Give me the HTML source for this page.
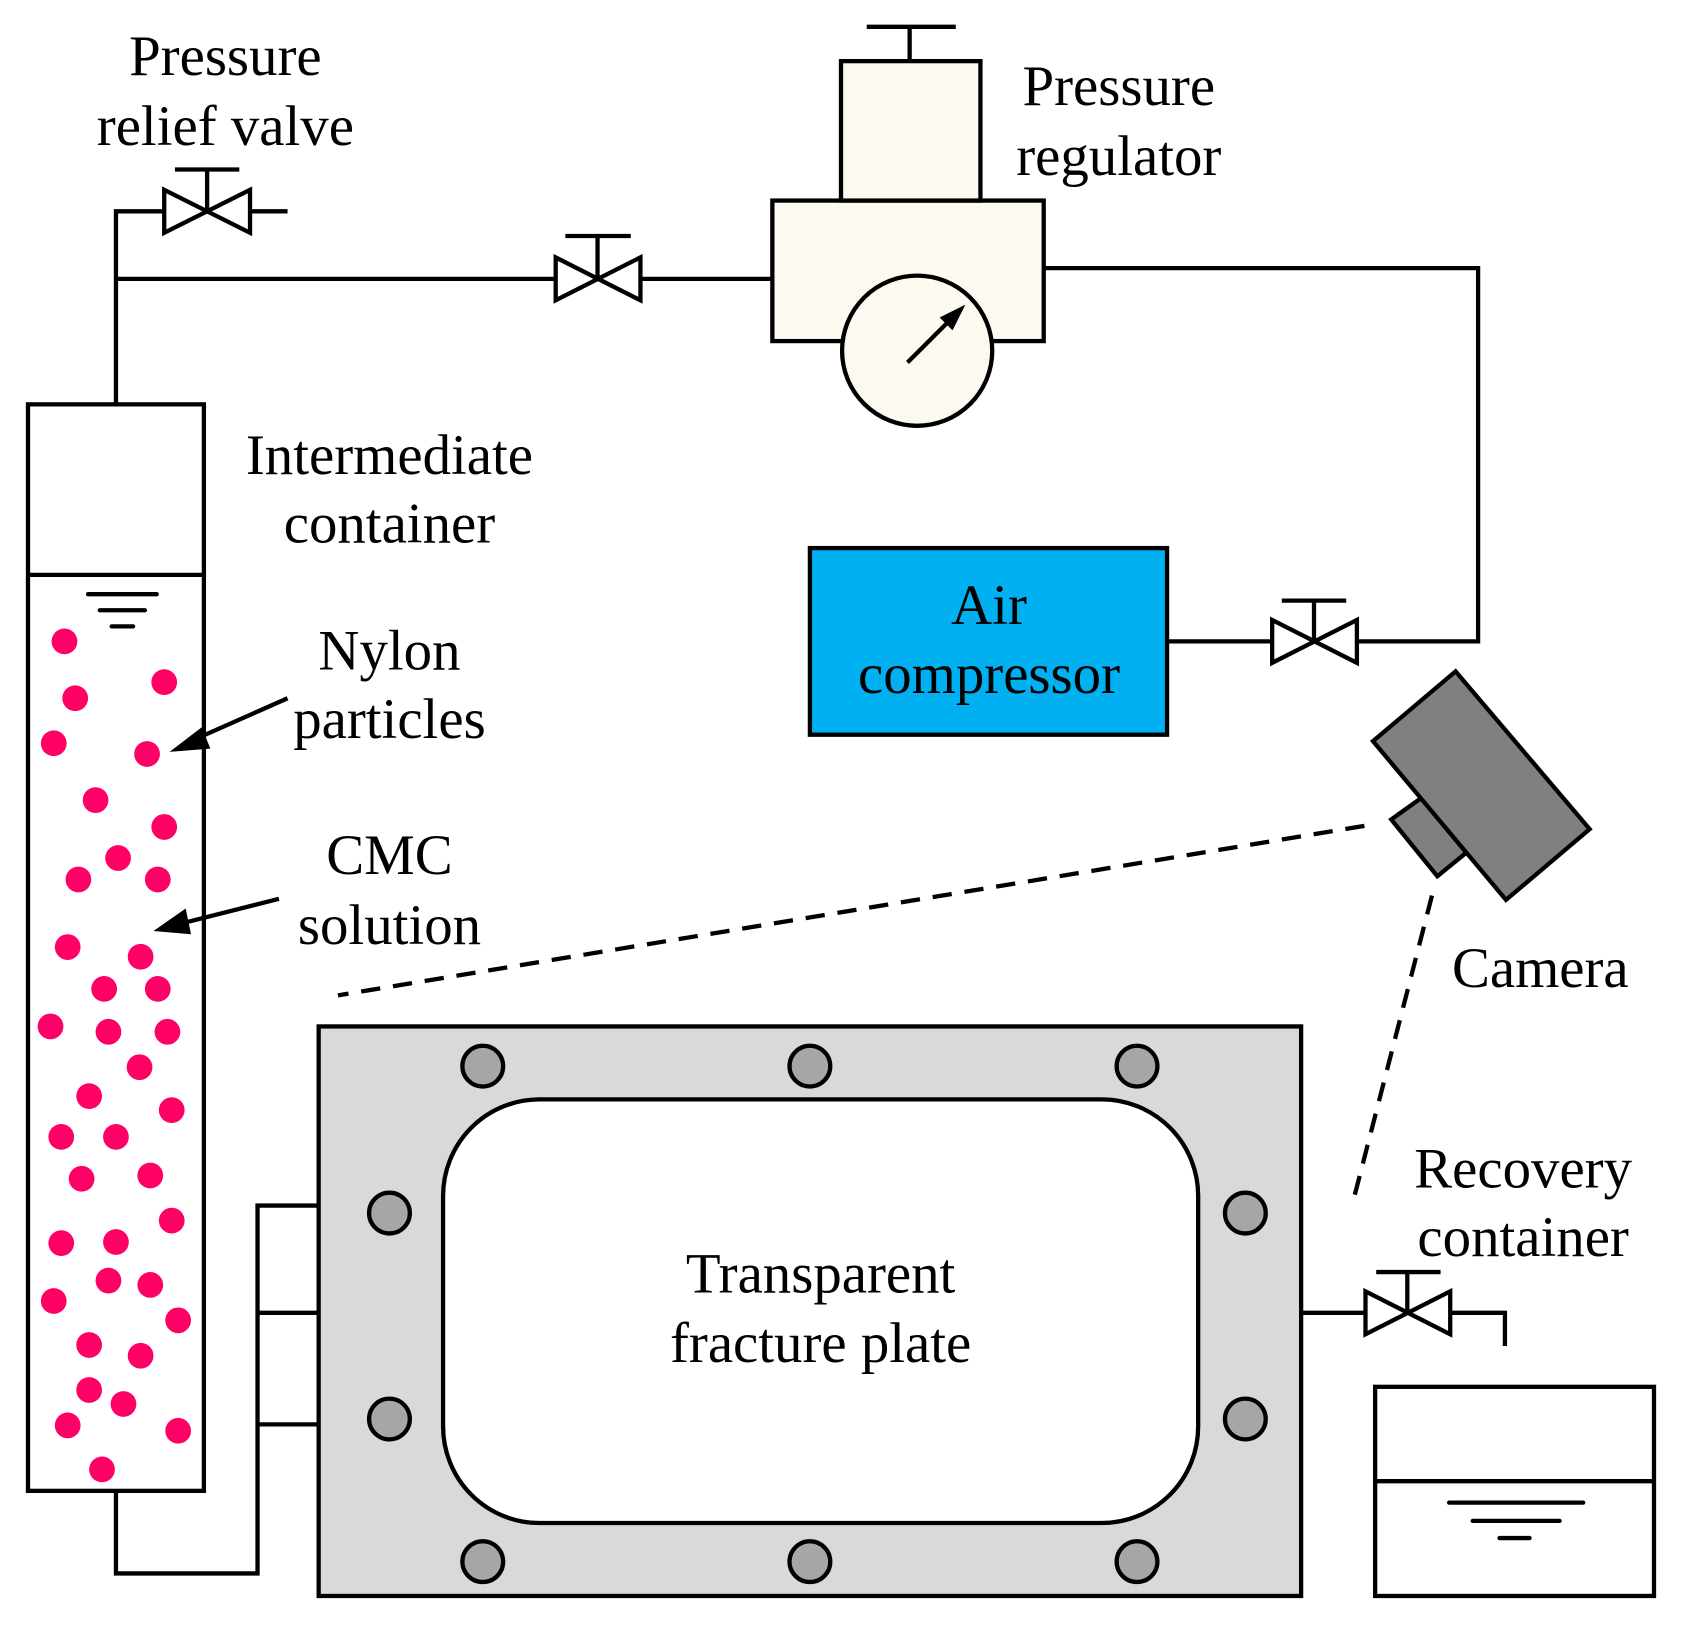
<!DOCTYPE html>
<html><head><meta charset="utf-8"><style>
html,body{margin:0;padding:0;background:#fff;}
svg{display:block;}
text{font-family:"Liberation Serif",serif;font-size:53px;fill:#000;text-anchor:middle;}
</style></head><body>
<svg width="1682" height="1626" viewBox="0 0 1568 1516" xmlns="http://www.w3.org/2000/svg">
<g fill="none" stroke="#000" stroke-width="4" stroke-linejoin="miter">
<rect x="26" y="377" width="164" height="1013" fill="#fff"/>
<line x1="26" y1="536" x2="190" y2="536"/>
<g stroke-linecap="round"><line x1="82" y1="554" x2="146" y2="554"/><line x1="93" y1="569" x2="135" y2="569"/><line x1="104" y1="584" x2="124" y2="584"/></g>
<polyline points="108,377 108,197 153,197"/>
<polygon points="153,177 153,217 233,177 233,217"/>
<line x1="193" y1="197" x2="193" y2="158"/><line x1="163" y1="158" x2="223" y2="158"/>
<line x1="233" y1="197" x2="268" y2="197"/>
<line x1="108" y1="260" x2="518" y2="260"/>
<polygon points="518,240 518,280 597,240 597,280"/>
<line x1="557" y1="260" x2="557" y2="220"/><line x1="527" y1="220" x2="588" y2="220"/>
<line x1="597" y1="260" x2="720" y2="260"/>
<rect x="720" y="187" width="253" height="131" fill="#fcfaf0"/>
<rect x="784" y="57" width="130" height="130" fill="#fcfaf0"/>
<line x1="848" y1="57" x2="848" y2="25"/><line x1="808" y1="25" x2="891" y2="25"/>
<circle cx="855" cy="327" r="70" fill="#fcfaf0"/>
<line x1="846" y1="338" x2="888" y2="296"/>
<polyline points="973,250 1378,250 1378,598 1265,598"/>
<polygon points="1186,578 1186,618 1265,578 1265,618"/>
<line x1="1225" y1="598" x2="1225" y2="560"/><line x1="1195" y1="560" x2="1255" y2="560"/>
<line x1="1186" y1="598" x2="1088" y2="598"/>
<rect x="755" y="511" width="333" height="174" fill="#00b0f0"/>
<polygon points="1297,764 1325,744 1367,795 1340,817" fill="#808080"/>
<polygon points="1357,626 1280,691 1404,839 1482,773" fill="#808080"/>
<g stroke-dasharray="18,12"><line x1="1272" y1="770" x2="315" y2="928"/><line x1="1335" y1="835" x2="1262" y2="1118"/></g>
<rect x="297" y="957" width="916" height="531" fill="#d9d9d9"/>
<rect x="413" y="1025" width="704" height="395" rx="90" fill="#fff"/>
<g fill="#a6a6a6">
<circle cx="450" cy="994" r="19"/><circle cx="755" cy="994" r="19"/><circle cx="1060" cy="994" r="19"/>
<circle cx="363" cy="1131" r="19"/><circle cx="1161" cy="1131" r="19"/>
<circle cx="363" cy="1323" r="19"/><circle cx="1161" cy="1323" r="19"/>
<circle cx="450" cy="1456" r="19"/><circle cx="755" cy="1456" r="19"/><circle cx="1060" cy="1456" r="19"/>
</g>
<polyline points="297,1124 240,1124 240,1467 108,1467 108,1390"/>
<line x1="240" y1="1224" x2="297" y2="1224"/><line x1="240" y1="1328" x2="297" y2="1328"/>
<line x1="1213" y1="1224" x2="1273" y2="1224"/>
<polygon points="1273,1204 1273,1244 1352,1204 1352,1244"/>
<line x1="1312" y1="1224" x2="1312" y2="1186"/><line x1="1283" y1="1186" x2="1343" y2="1186"/>
<polyline points="1352,1224 1403,1224 1403,1255"/>
<rect x="1282" y="1293" width="260" height="195"/>
<line x1="1282" y1="1381" x2="1542" y2="1381"/>
<g stroke-linecap="round"><line x1="1351" y1="1401" x2="1476" y2="1401"/><line x1="1373" y1="1418" x2="1454" y2="1418"/><line x1="1398" y1="1434" x2="1426" y2="1434"/></g>
<line x1="268" y1="651" x2="180" y2="690"/>
<line x1="260" y1="838" x2="165" y2="862"/>
</g>
<g fill="#000">
<polygon points="900,284 876,296 888,308"/>
<polygon points="158,701 188,678 196,698"/>
<polygon points="143,868 173,847 178,871"/>
</g>
<g fill="#ff0066">
<circle cx="60" cy="598" r="12"/><circle cx="153" cy="636" r="12"/><circle cx="70" cy="651" r="12"/><circle cx="50" cy="693" r="12"/><circle cx="137" cy="703" r="12"/><circle cx="89" cy="746" r="12"/><circle cx="153" cy="771" r="12"/><circle cx="110" cy="800" r="12"/><circle cx="73" cy="820" r="12"/><circle cx="147" cy="820" r="12"/><circle cx="63" cy="883" r="12"/><circle cx="131" cy="892" r="12"/><circle cx="97" cy="922" r="12"/><circle cx="147" cy="922" r="12"/><circle cx="47" cy="957" r="12"/><circle cx="101" cy="962" r="12"/><circle cx="156" cy="962" r="12"/><circle cx="130" cy="995" r="12"/><circle cx="83" cy="1022" r="12"/><circle cx="160" cy="1035" r="12"/><circle cx="57" cy="1060" r="12"/><circle cx="108" cy="1060" r="12"/><circle cx="76" cy="1099" r="12"/><circle cx="140" cy="1096" r="12"/><circle cx="160" cy="1138" r="12"/><circle cx="57" cy="1159" r="12"/><circle cx="108" cy="1158" r="12"/><circle cx="101" cy="1194" r="12"/><circle cx="140" cy="1198" r="12"/><circle cx="50" cy="1213" r="12"/><circle cx="166" cy="1231" r="12"/><circle cx="83" cy="1254" r="12"/><circle cx="131" cy="1264" r="12"/><circle cx="83" cy="1296" r="12"/><circle cx="115" cy="1309" r="12"/><circle cx="63" cy="1329" r="12"/><circle cx="166" cy="1334" r="12"/><circle cx="95" cy="1370" r="12"/>
</g>
<text x="210" y="70">Pressure</text>
<text x="210" y="135">relief valve</text>
<text x="1043" y="98">Pressure</text>
<text x="1043" y="163">regulator</text>
<text x="363" y="442">Intermediate</text>
<text x="363" y="506">container</text>
<text x="363" y="624">Nylon</text>
<text x="363" y="688">particles</text>
<text x="363" y="815">CMC</text>
<text x="363" y="880">solution</text>
<text x="922" y="582">Air</text>
<text x="922" y="646">compressor</text>
<text x="1436" y="920">Camera</text>
<text x="1420" y="1107">Recovery</text>
<text x="1420" y="1171">container</text>
<text x="765" y="1205">Transparent</text>
<text x="765" y="1270">fracture plate</text>
</svg>
</body></html>
